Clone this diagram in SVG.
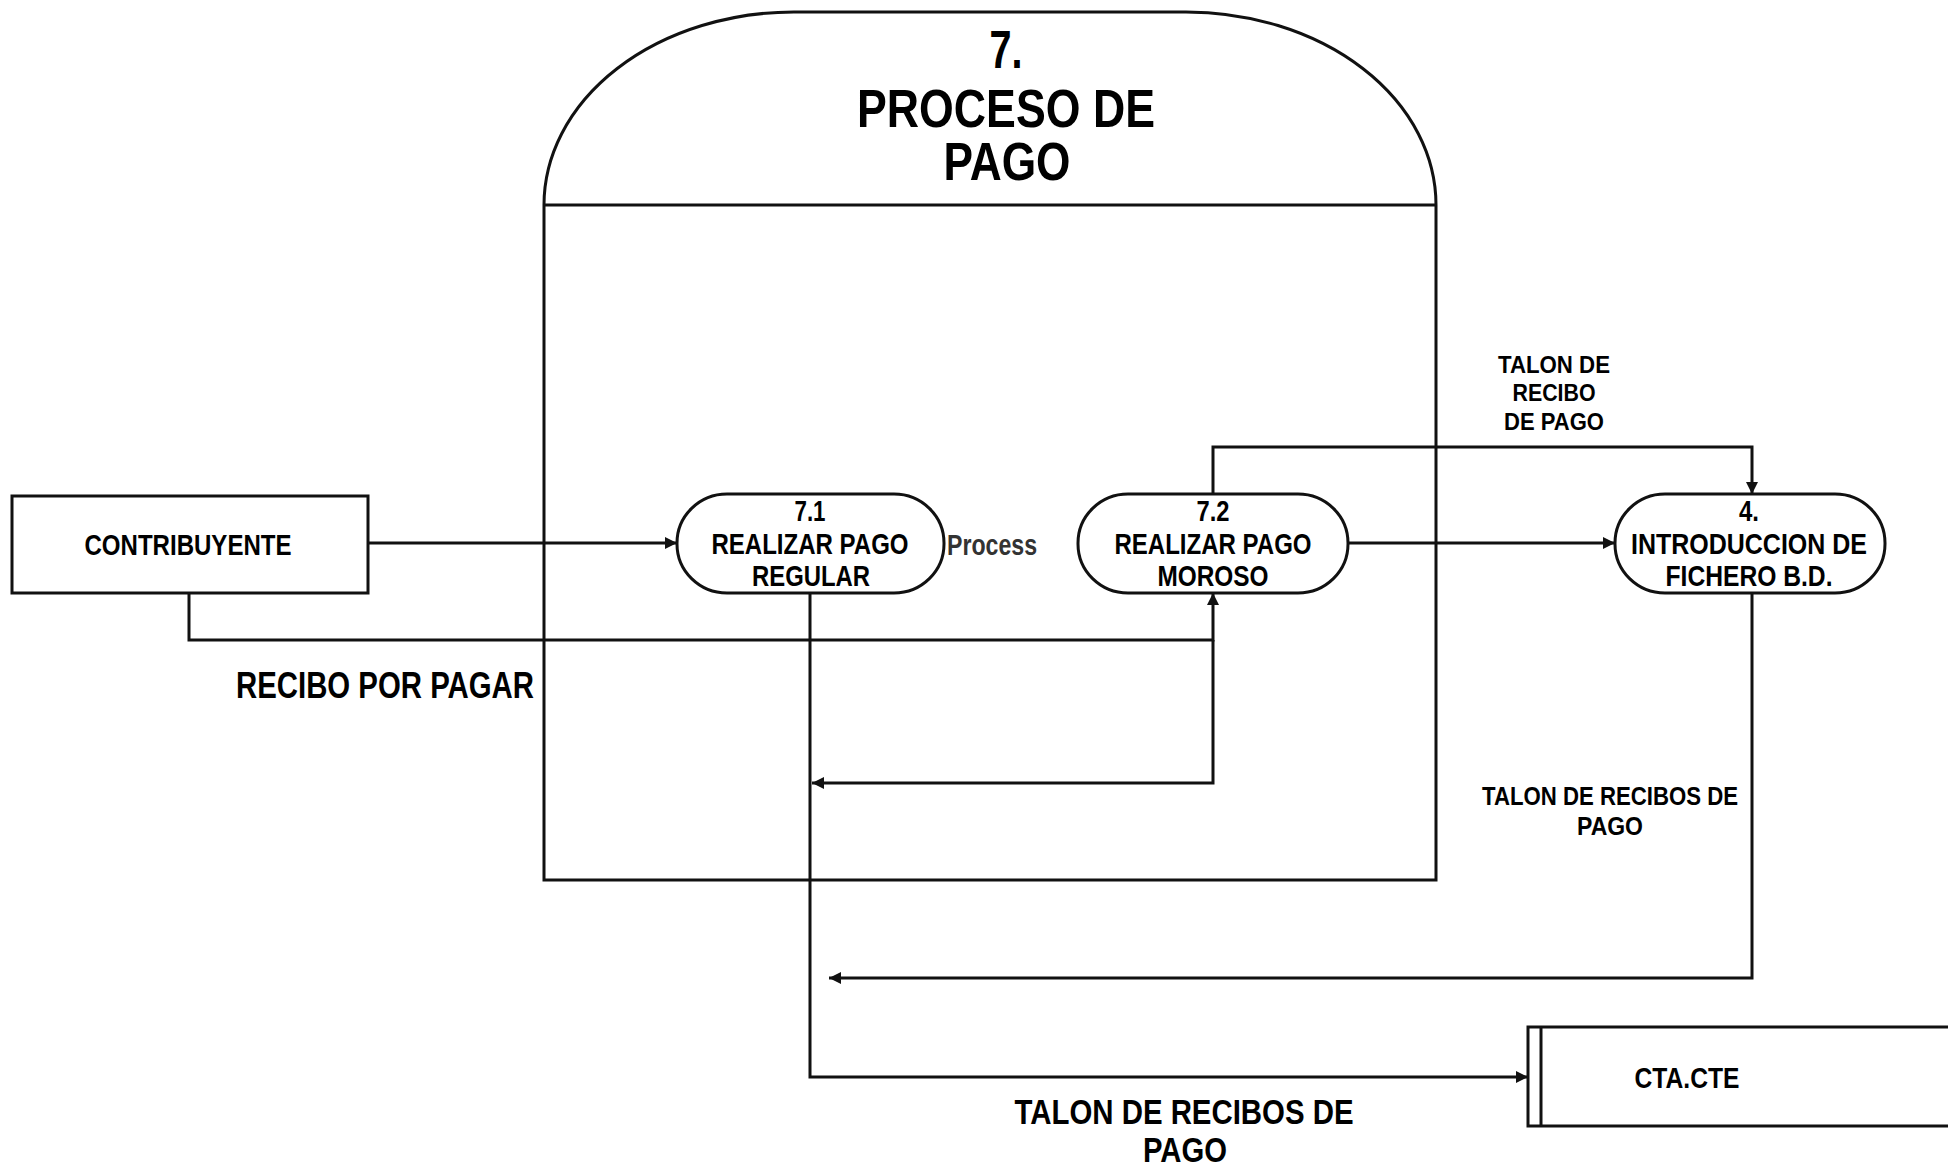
<svg xmlns="http://www.w3.org/2000/svg" width="1948" height="1168" viewBox="0 0 1948 1168">
<defs>
<marker id="ah" viewBox="0 0 10 10" refX="10" refY="5" markerWidth="15" markerHeight="12" markerUnits="userSpaceOnUse" orient="auto">
<path d="M0,0 L10,5 L0,10 Z" fill="#111"/>
</marker>
<style>
.ln{fill:none;stroke:#111;stroke-width:3}
.bx{fill:#fff;stroke:#111;stroke-width:3}
.t{font-family:"Liberation Sans",Arial,sans-serif;font-weight:bold;fill:#000;text-anchor:middle}
</style>
</defs>
<rect width="1948" height="1168" fill="#fff"/>
<g id="proceso7">
<path class="bx" d="M544,880 L544,205 A250,193 0 0 1 794,12 L1186,12 A250,193 0 0 1 1436,205 L1436,880 Z"/>
<path class="ln" d="M544,205 H1436"/>
<text class="t" x="1006" y="68" font-size="54" textLength="33" lengthAdjust="spacingAndGlyphs">7.</text>
<text class="t" x="1006" y="127" font-size="54" textLength="298" lengthAdjust="spacingAndGlyphs">PROCESO DE</text>
<text class="t" x="1007" y="180" font-size="54" textLength="127" lengthAdjust="spacingAndGlyphs">PAGO</text>
</g>
<g id="connectors">
<path class="ln" d="M368,543 H677" marker-end="url(#ah)"/>
<path class="ln" d="M189,593 V640 H1213 V593" marker-end="url(#ah)"/>
<path class="ln" d="M1213,640 V783 H812" marker-end="url(#ah)"/>
<path class="ln" d="M1213,494 V447 H1752 V494" marker-end="url(#ah)"/>
<path class="ln" d="M1348,543 H1615" marker-end="url(#ah)"/>
<path class="ln" d="M810,593 V1077 H1528" marker-end="url(#ah)"/>
<path class="ln" d="M1752,593 V978 H829" marker-end="url(#ah)"/>
<text class="t" x="385" y="698" font-size="36" textLength="298" lengthAdjust="spacingAndGlyphs">RECIBO POR PAGAR</text>
<text class="t" x="1554" y="373" font-size="24" textLength="112" lengthAdjust="spacingAndGlyphs">TALON DE</text>
<text class="t" x="1554" y="401" font-size="24" textLength="83" lengthAdjust="spacingAndGlyphs">RECIBO</text>
<text class="t" x="1554" y="430" font-size="24" textLength="100" lengthAdjust="spacingAndGlyphs">DE PAGO</text>
<text class="t" x="1610" y="805" font-size="25" textLength="256" lengthAdjust="spacingAndGlyphs">TALON DE RECIBOS DE</text>
<text class="t" x="1610" y="835" font-size="25" textLength="66" lengthAdjust="spacingAndGlyphs">PAGO</text>
<text class="t" x="1184" y="1124" font-size="35" textLength="339" lengthAdjust="spacingAndGlyphs">TALON DE RECIBOS DE</text>
<text class="t" x="1185" y="1162" font-size="35" textLength="84" lengthAdjust="spacingAndGlyphs">PAGO</text>
</g>
<g id="contribuyente">
<rect class="bx" x="12" y="496" width="356" height="97"/>
<text class="t" x="188" y="555" font-size="29" textLength="207" lengthAdjust="spacingAndGlyphs">CONTRIBUYENTE</text>
</g>
<g id="p71">
<rect class="bx" x="677" y="494" width="267" height="99" rx="50" ry="49"/>
<text class="t" x="810" y="521" font-size="30" textLength="31" lengthAdjust="spacingAndGlyphs">7.1</text>
<text class="t" x="810" y="554" font-size="30" textLength="197" lengthAdjust="spacingAndGlyphs">REALIZAR PAGO</text>
<text class="t" x="811" y="586" font-size="30" textLength="118" lengthAdjust="spacingAndGlyphs">REGULAR</text>
</g>
<g id="process-label">
<text class="t" x="992" y="555" font-size="29" textLength="90" lengthAdjust="spacingAndGlyphs" style="fill:#333">Process</text>
</g>
<g id="p72">
<rect class="bx" x="1078" y="494" width="270" height="99" rx="50" ry="49"/>
<text class="t" x="1213" y="521" font-size="30" textLength="33" lengthAdjust="spacingAndGlyphs">7.2</text>
<text class="t" x="1213" y="554" font-size="30" textLength="197" lengthAdjust="spacingAndGlyphs">REALIZAR PAGO</text>
<text class="t" x="1213" y="586" font-size="30" textLength="111" lengthAdjust="spacingAndGlyphs">MOROSO</text>
</g>
<g id="p4">
<rect class="bx" x="1615" y="494" width="270" height="99" rx="50" ry="49"/>
<text class="t" x="1749" y="521" font-size="30" textLength="20" lengthAdjust="spacingAndGlyphs">4.</text>
<text class="t" x="1749" y="554" font-size="30" textLength="236" lengthAdjust="spacingAndGlyphs">INTRODUCCION DE</text>
<text class="t" x="1749" y="586" font-size="30" textLength="167" lengthAdjust="spacingAndGlyphs">FICHERO B.D.</text>
</g>
<g id="ctacte">
<path class="bx" d="M1950,1027 H1528 V1126 H1950"/>
<path class="ln" d="M1541,1027 V1126" stroke-width="2.4"/>
<text class="t" x="1687" y="1088" font-size="29" textLength="105" lengthAdjust="spacingAndGlyphs">CTA.CTE</text>
</g>
</svg>
